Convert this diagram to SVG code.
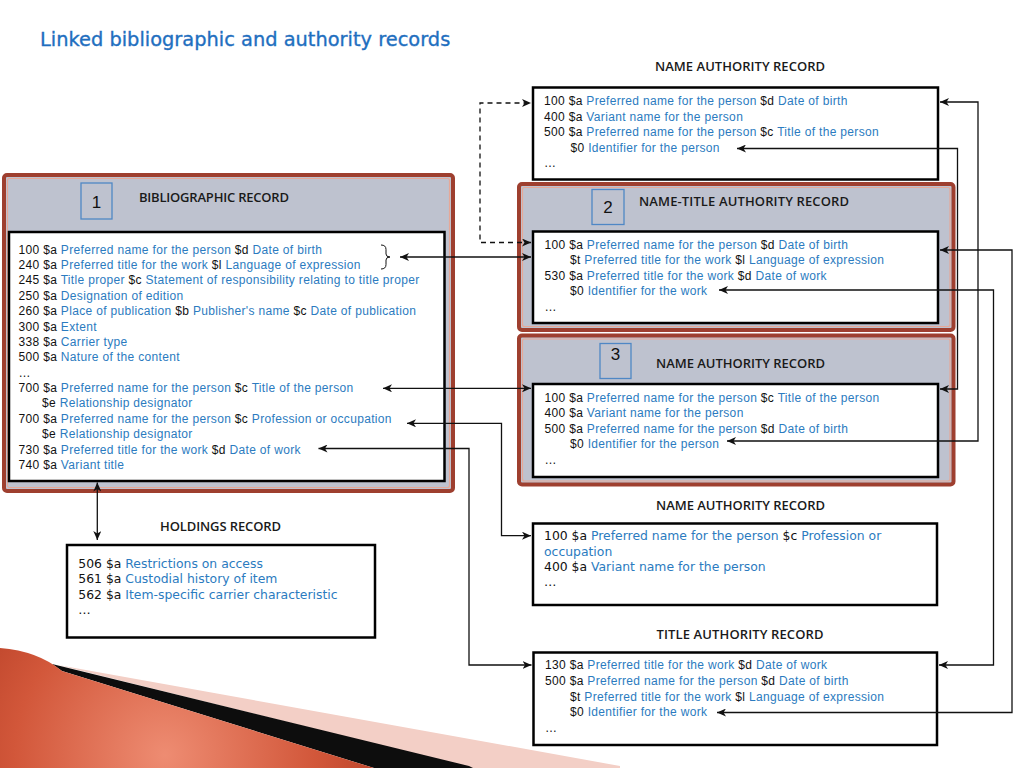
<svg xmlns="http://www.w3.org/2000/svg" width="1024" height="768" viewBox="0 0 1024 768">
<style>
.t{font-family:"Liberation Sans",Arial,sans-serif;font-size:12px;letter-spacing:0.33px;fill:#111}
.v{font-family:"DejaVu Sans",Verdana,sans-serif;font-size:12.4px;fill:#111}
.b{fill:#2b7bc0}
.h{font-family:"Open Sans","Liberation Sans",sans-serif;font-size:13px;font-weight:600;fill:#1a1a1a}
.n{font-family:"Liberation Sans",Arial,sans-serif;font-size:17px;fill:#111;text-anchor:middle}
.fo{fill:#bec2cf;stroke:#9e3f2f;stroke-width:4}
.fi{fill:none;stroke:#e6a898;stroke-width:1.2}
.box{fill:#fff;stroke:#000;stroke-width:2.5}
.num{fill:#bec2cf;stroke:#4f87c5;stroke-width:1.3}
.c{fill:none;stroke:#111;stroke-width:1.3;marker-start:url(#ah);marker-end:url(#ah)}
.d{stroke-dasharray:5 4}
</style>
<defs>
<marker id="ah" markerUnits="userSpaceOnUse" markerWidth="10" markerHeight="8" refX="9" refY="4" orient="auto-start-reverse">
<path d="M0,0 L9,4 L0,8 L2.5,4 Z" fill="#111"/>
</marker>
<radialGradient id="rg" cx="165" cy="755" r="300" gradientUnits="userSpaceOnUse">
<stop offset="0" stop-color="#ee8c72"/>
<stop offset="0.5" stop-color="#d2573a"/>
<stop offset="1" stop-color="#a32e18"/>
</radialGradient>
</defs>
<rect width="1024" height="768" fill="#fff"/>

<g id="decoration">
<polygon points="58,665 620,766 620,768 472,768" fill="#f3cfc6"/>
<polygon points="52,664 469,766 473,768 374,768 62,671" fill="#0d0d0d"/>
<path d="M0,648 Q38,651 62,671 L374,768 L0,768 Z" fill="url(#rg)"/>
</g>

<text x="40" y="46" style="font-family:'DejaVu Sans',Verdana,sans-serif;font-size:19.4px;fill:#1f6fbf;stroke:#1f6fbf;stroke-width:0.35">Linked bibliographic and authority records</text>

<g id="bibliographic-record">
<rect class="fo" x="4" y="175" width="449" height="316" rx="3"/>
<rect class="fi" x="7.5" y="178.5" width="442" height="309" rx="2"/>
<rect class="num" x="81" y="183" width="31" height="36"/>
<text class="n" x="96.5" y="208">1</text>
<text class="h" x="139" y="202" textLength="150">BIBLIOGRAPHIC RECORD</text>
<rect class="box" x="9" y="232" width="435.5" height="249"/>
<path d="M381,245 q5,0 5,4.5 v4.5 q0,3 4,3 q-4,0 -4,3 v4.5 q0,4.5 -5,4.5" fill="none" stroke="#111" stroke-width="1"/>
<text class="t" x="18.5" y="253.5">100 $a <tspan class="b">Preferred name for the person</tspan> $d <tspan class="b">Date of birth</tspan></text>
<text class="t" x="18.5" y="268.9">240 $a <tspan class="b">Preferred title for the work</tspan> $l <tspan class="b">Language of expression</tspan></text>
<text class="t" x="18.5" y="284.3">245 $a <tspan class="b">Title proper</tspan> $c <tspan class="b">Statement of responsibility relating to title proper</tspan></text>
<text class="t" x="18.5" y="299.7">250 $a <tspan class="b">Designation of edition</tspan></text>
<text class="t" x="18.5" y="315.1">260 $a <tspan class="b">Place of publication</tspan> $b <tspan class="b">Publisher's name</tspan> $c <tspan class="b">Date of publication</tspan></text>
<text class="t" x="18.5" y="330.5">300 $a <tspan class="b">Extent</tspan></text>
<text class="t" x="18.5" y="345.8">338 $a <tspan class="b">Carrier type</tspan></text>
<text class="t" x="18.5" y="361.2">500 $a <tspan class="b">Nature of the content</tspan></text>
<text class="t" x="18.5" y="376.6">…</text>
<text class="t" x="18.5" y="392">700 $a <tspan class="b">Preferred name for the person</tspan> $c <tspan class="b">Title of the person</tspan></text>
<text class="t" x="42" y="407.4">$e <tspan class="b">Relationship designator</tspan></text>
<text class="t" x="18.5" y="422.8">700 $a <tspan class="b">Preferred name for the person</tspan> $c <tspan class="b">Profession or occupation</tspan></text>
<text class="t" x="42" y="438.2">$e <tspan class="b">Relationship designator</tspan></text>
<text class="t" x="18.5" y="453.5">730 $a <tspan class="b">Preferred title for the work</tspan> $d <tspan class="b">Date of work</tspan></text>
<text class="t" x="18.5" y="468.9">740 $a <tspan class="b">Variant title</tspan></text>
</g>

<g id="name-authority-record-top">
<text class="h" x="655" y="71" textLength="170">NAME AUTHORITY RECORD</text>
<rect class="box" x="533" y="87.5" width="405" height="92"/>
<text class="t" x="544" y="105">100 $a <tspan class="b">Preferred name for the person</tspan> $d <tspan class="b">Date of birth</tspan></text>
<text class="t" x="544" y="120.5">400 $a <tspan class="b">Variant name for the person</tspan></text>
<text class="t" x="544" y="136">500 $a <tspan class="b">Preferred name for the person</tspan> $c <tspan class="b">Title of the person</tspan></text>
<text class="t" x="570.5" y="151.5">$0 <tspan class="b">Identifier for the person</tspan></text>
<text class="t" x="544" y="167">…</text>
</g>

<g id="name-title-authority-record">
<rect class="fo" x="519" y="184" width="434.5" height="146" rx="3"/>
<rect class="fi" x="522.5" y="187.5" width="427.5" height="139" rx="2"/>
<rect class="num" x="592" y="189.5" width="32" height="35"/>
<text class="n" x="608" y="212.5">2</text>
<text class="h" x="639" y="205.5" textLength="210">NAME-TITLE AUTHORITY RECORD</text>
<rect class="box" x="533" y="231.5" width="405" height="91.5"/>
<text class="t" x="544.5" y="248.5">100 $a <tspan class="b">Preferred name for the person</tspan> $d <tspan class="b">Date of birth</tspan></text>
<text class="t" x="570" y="264">$t <tspan class="b">Preferred title for the work</tspan> $l <tspan class="b">Language of expression</tspan></text>
<text class="t" x="544.5" y="279.5">530 $a <tspan class="b">Preferred title for the work</tspan> $d <tspan class="b">Date of work</tspan></text>
<text class="t" x="570" y="295">$0 <tspan class="b">Identifier for the work</tspan></text>
<text class="t" x="544.5" y="310.5">…</text>
</g>

<g id="name-authority-record-3">
<rect class="fo" x="519" y="335.5" width="434.5" height="149" rx="3"/>
<rect class="fi" x="522.5" y="339" width="427.5" height="142" rx="2"/>
<rect class="num" x="600" y="343.5" width="31" height="35"/>
<text class="n" x="615.5" y="360">3</text>
<text class="h" x="656" y="368" textLength="169">NAME AUTHORITY RECORD</text>
<rect class="box" x="533" y="384" width="405" height="93"/>
<text class="t" x="544.5" y="401.5">100 $a <tspan class="b">Preferred name for the person</tspan> $c <tspan class="b">Title of the person</tspan></text>
<text class="t" x="544.5" y="417">400 $a <tspan class="b">Variant name for the person</tspan></text>
<text class="t" x="544.5" y="432.5">500 $a <tspan class="b">Preferred name for the person</tspan> $d <tspan class="b">Date of birth</tspan></text>
<text class="t" x="570" y="448">$0 <tspan class="b">Identifier for the person</tspan></text>
<text class="t" x="544.5" y="463.5">…</text>
</g>

<g id="name-authority-record-lower">
<text class="h" x="656" y="509.5" textLength="169">NAME AUTHORITY RECORD</text>
<rect class="box" x="533" y="523.5" width="404" height="81.5"/>
<text class="v" x="544" y="540">100 $a <tspan class="b">Preferred name for the person</tspan> $c <tspan class="b">Profession or</tspan></text>
<text class="v b" x="544" y="555.5">occupation</text>
<text class="v" x="544" y="571">400 $a <tspan class="b">Variant name for the person</tspan></text>
<text class="v" x="544" y="586">…</text>
</g>

<g id="title-authority-record">
<text class="h" x="656.5" y="639.3" textLength="167">TITLE AUTHORITY RECORD</text>
<rect class="box" x="533.5" y="652.5" width="403.5" height="92.5"/>
<text class="t" x="545" y="669">130 $a <tspan class="b">Preferred title for the work</tspan> $d <tspan class="b">Date of work</tspan></text>
<text class="t" x="545" y="685">500 $a <tspan class="b">Preferred name for the person</tspan> $d <tspan class="b">Date of birth</tspan></text>
<text class="t" x="570" y="700.5">$t <tspan class="b">Preferred title for the work</tspan> $l <tspan class="b">Language of expression</tspan></text>
<text class="t" x="570" y="716">$0 <tspan class="b">Identifier for the work</tspan></text>
<text class="t" x="545" y="731.5">…</text>
</g>

<g id="holdings-record">
<text class="h" x="160" y="531" textLength="121">HOLDINGS RECORD</text>
<rect class="box" x="67" y="545" width="308" height="92.5"/>
<text class="v" x="78.3" y="567.5">506 $a <tspan class="b">Restrictions on access</tspan></text>
<text class="v" x="78.3" y="583">561 $a <tspan class="b">Custodial history of item</tspan></text>
<text class="v" x="78.3" y="598.5">562 $a <tspan class="b">Item-specific carrier characteristic</tspan></text>
<text class="v" x="78.3" y="614">…</text>
</g>

<g id="connectors">
<path class="c d" d="M531,242.5 H480 V103 H531"/>
<path class="c" d="M400,257 H531"/>
<path class="c" d="M383,388.3 H531"/>
<path class="c" d="M407,423.3 H501.5 V535.7 H531"/>
<path class="c" d="M318.5,448.5 H469 V665 H531.5"/>
<path class="c" d="M97.3,482.5 V540"/>
<path class="c" d="M727,441 H978 V102 H940"/>
<path class="c" d="M737,148.5 H957.5 V389 H940"/>
<path class="c" d="M719,290 H993.5 V665 H939"/>
<path class="c" d="M717,712.5 H1012 V250 H940"/>
</g>
</svg>
